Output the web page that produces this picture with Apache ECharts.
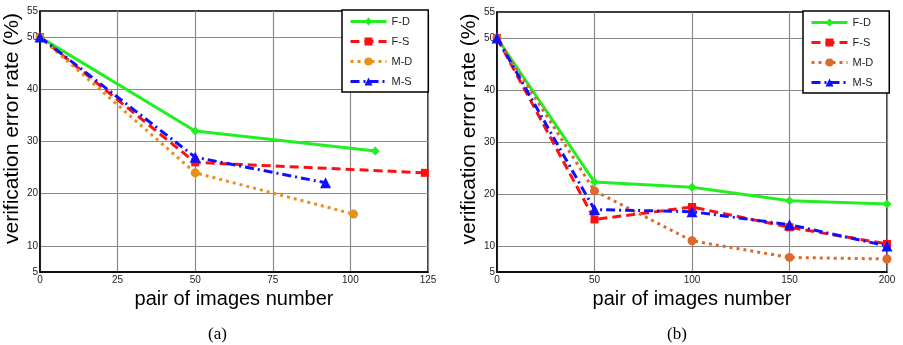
<!DOCTYPE html>
<html>
<head>
<meta charset="utf-8">
<script src="https://cdn.jsdelivr.net/npm/echarts@6/dist/echarts.min.js"></script>
<style>
  html, body { margin: 0; padding: 0; background: #fff; }
  #chart { width: 903px; height: 345px; }
</style>
</head>
<body>
<div id="chart"></div>
<script>
// panel (a)
var aFDx = [0, 50, 108], aFDy = [50, 32, 28.2];
var aFSx = [0, 50, 124], aFSy = [50, 26, 24];
var aMDx = [0, 50, 101], aMDy = [50, 24, 16.1];
var aMSx = [0, 50, 92],  aMSy = [50, 27, 22.1];

// panel (b)
var bX = [0, 50, 100, 150, 200];
var bFD = [50, 22.3, 21.3, 18.7, 18.1];
var bFS = [50, 15.1, 17.5, 13.6, 10.4];
var bMD = [50, 20.6, 11.0, 7.8, 7.5];
var bMS = [50, 17.0, 16.6, 14.1, 10.0];

var yLabels = [5, 10, 20, 30, 40, 50, 55];
var names = ["F-D", "F-S", "M-D", "M-S"];

var zip = (xs, ys) => xs.map((x, i) => [x, ys[i]]);

var font = "Liberation Sans, Arial, sans-serif";

var styles = {
  "F-D": { color: "#22ee22", type: "solid", symbol: "diamond", size: 9 },
  "F-S": { color: "#ff1010", type: [9, 5], symbol: "rect", size: 8 },
  "M-D": { color: "#e8901c", type: [3, 4], symbol: "circle", size: 9 },
  "M-S": { color: "#1010ff", type: [9, 4, 2, 4], symbol: "triangle", size: 11 },
};

function mk(name, data, idx, colorOverride) {
  var s = styles[name];
  var c = colorOverride || s.color;
  return {
    name: idx === 0 ? name : name + " b",
    type: "line",
    xAxisIndex: idx,
    yAxisIndex: idx,
    data: data,
    symbol: s.symbol,
    symbolSize: s.size,
    showAllSymbol: true,
    animation: false,
    itemStyle: { color: c },
    lineStyle: { color: c, width: 3, type: s.type, cap: "butt" },
    z: 3,
  };
}

function xAxis(idx, max, interval) {
  return {
    type: "value",
    gridIndex: idx,
    min: 0,
    max: max,
    interval: interval,
    name: "pair of images number",
    nameLocation: "middle",
    nameGap: 12,
    nameTextStyle: { fontFamily: font, fontSize: 20, color: "#000", verticalAlign: "top" },
    axisLine: { lineStyle: { color: "#000", width: 1.5 } },
    axisTick: { show: false },
    axisLabel: { fontFamily: font, fontSize: 10, color: "#222", margin: 3 },
    splitLine: { show: true, lineStyle: { color: "#8a8a8a", width: 1.2 } },
  };
}

function yAxis(idx) {
  return {
    type: "value",
    gridIndex: idx,
    min: 5,
    max: 55,
    interval: 5,
    name: "verification error rate (%)",
    nameLocation: "middle",
    nameGap: 13,
    nameTextStyle: { fontFamily: font, fontSize: 21, color: "#000", padding: [0, 0, 0, 26] },
    axisLine: { lineStyle: { color: "#000", width: 1.5 } },
    axisTick: { show: false },
    axisLabel: {
      fontFamily: font, fontSize: 10, color: "#222", margin: 2,
      formatter: (v) => (yLabels.indexOf(v) >= 0 ? String(v) : ""),
    },
    splitLine: { show: true, lineStyle: { color: ["rgba(0,0,0,0)", "#8a8a8a"], width: 1.2 } },
  };
}

function legend(idx, left, top) {
  return {
    orient: "vertical",
    left: left,
    top: top,
    data: names.map((n) => (idx === 0 ? n : n + " b")),
    formatter: (n) => n.split(" ")[0],
    itemWidth: 36,
    itemHeight: 10,
    itemGap: 9,
    padding: [6, 16, 5, 7],
    borderColor: "#000",
    borderWidth: 1.5,
    backgroundColor: "#fff",
    selectedMode: false,
    lineStyle: { width: 3 },
    textStyle: { fontFamily: font, fontSize: 11, color: "#222" },
    z: 10,
  };
}

var chart = echarts.init(document.getElementById("chart"));
var option = {
  backgroundColor: "#fff",
  animation: false,
  title: [
    { text: "(a)", left: 203, top: 321, textStyle: { fontFamily: "Liberation Serif, Times New Roman, serif", fontSize: 17, fontWeight: "normal", color: "#000" } },
    { text: "(b)", left: 662, top: 321, textStyle: { fontFamily: "Liberation Serif, Times New Roman, serif", fontSize: 17, fontWeight: "normal", color: "#000" } },
  ],
  grid: [
    { left: 40, right: 475, top: 11, bottom: 73, show: true, borderColor: "#000", borderWidth: 1.5, backgroundColor: "transparent" },
    { left: 497, right: 16, top: 12, bottom: 73, show: true, borderColor: "#000", borderWidth: 1.5, backgroundColor: "transparent" },
  ],
  legend: [legend(0, 342, 10), legend(1, 803, 11)],
  xAxis: [xAxis(0, 125, 25), xAxis(1, 200, 50)],
  yAxis: [yAxis(0), yAxis(1)],
  series: [
    mk("F-D", zip(aFDx, aFDy), 0),
    mk("F-S", zip(aFSx, aFSy), 0),
    mk("M-D", zip(aMDx, aMDy), 0),
    mk("M-S", zip(aMSx, aMSy), 0),
    mk("F-D", zip(bX, bFD), 1),
    mk("F-S", zip(bX, bFS), 1),
    mk("M-D", zip(bX, bMD), 1, "#dc6a2c"),
    mk("M-S", zip(bX, bMS), 1),
  ],
};
chart.setOption(option);
</script>
</body>
</html>
